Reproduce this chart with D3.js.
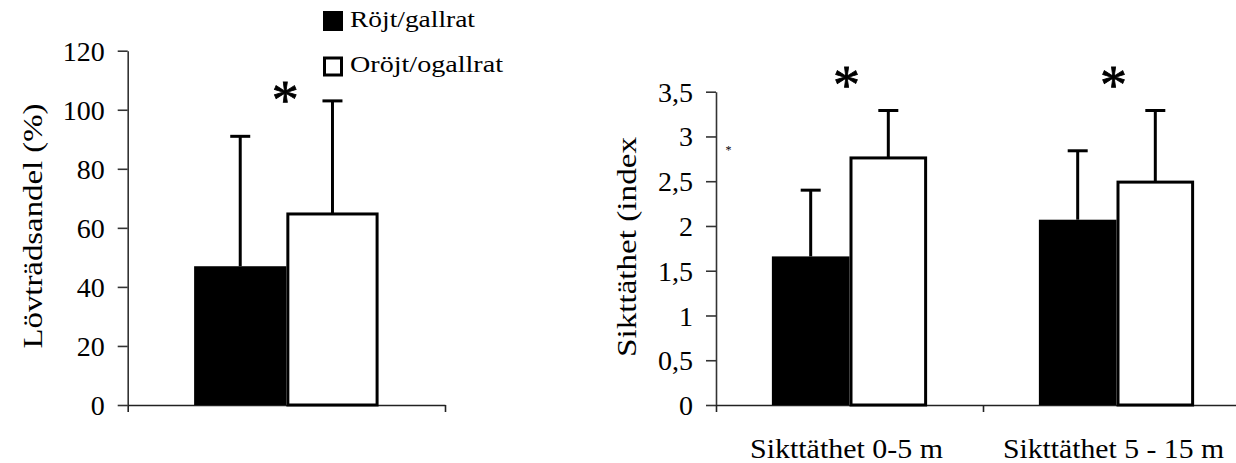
<!DOCTYPE html>
<html>
<head>
<meta charset="utf-8">
<script src="https://cdn.jsdelivr.net/npm/d3@7"></script>
<style>
  html, body { margin: 0; padding: 0; background: #fff; }
  svg { display: block; }
  svg text { font-family: "Liberation Serif", "Times New Roman", Times, serif !important; fill: #000; }
</style>
</head>
<body>
<svg id="chart" width="1236" height="463" font-family="Liberation Serif, serif"></svg>
<script>
// ---------- data ----------
const seriesNames = ["Röjt/gallrat", "Oröjt/ogallrat"];
const seriesFill = ["#000", "#fff"];

// left panel
const leftCategories = ["Lövträdsandel"];
const leftRojt = [47];
const leftOrojt = [64.7];
const leftRojtSD = [44];
const leftOrojtSD = [38.3];
const leftTicks = [0, 20, 40, 60, 80, 100, 120];
const leftYLabel = "Lövträdsandel (%)";

// right panel
const rightCategories = ["Sikttäthet 0-5 m", "Sikttäthet 5 - 15 m"];
const rightRojt = [1.66, 2.07];
const rightOrojt = [2.76, 2.49];
const rightRojtSD = [0.74, 0.77];
const rightOrojtSD = [0.53, 0.80];
const rightTicks = [0, 0.5, 1, 1.5, 2, 2.5, 3, 3.5];
const rightTickLabels = ["0", "0,5", "1", "1,5", "2", "2,5", "3", "3,5"];
const rightYLabel = "Sikttäthet (index";

// ---------- drawing ----------
const FONT = "Liberation Serif, Times New Roman, serif";
const svg = d3.select("#chart");
svg.append("rect").attr("width", 1236).attr("height", 463).attr("fill", "#fff");

function panel(opts) {
  const g = svg.append("g");
  const y = d3.scaleLinear().domain([0, opts.yMax]).range([opts.y0, opts.y1]);
  const xb = d3.scaleLinear().domain([0, opts.categories.length]).range([opts.x0, opts.x1]);
  const xg = d3.scaleBand().domain(opts.categories).range([opts.x0, opts.x1]).padding(0);
  const xs = d3.scaleBand().domain(seriesNames).range([0, xg.bandwidth()])
    .paddingInner(0).paddingOuter(0.72);

  // y axis
  const yAxis = d3.axisLeft(y).tickValues(opts.ticks).tickSize(10).tickSizeOuter(0)
    .tickPadding(13).tickFormat((d, i) => opts.tickLabels[i]);
  const ya = g.append("g").attr("transform", `translate(${opts.x0},0)`).call(yAxis)
    .attr("font-family", FONT).attr("font-size", 28);
  ya.selectAll("text").attr("font-size", 28).attr("dy", "0.34em").attr("font-family", FONT);
  ya.selectAll("line, path").attr("stroke", "#333").attr("stroke-width", 1.6);

  // x axis (category boundary ticks)
  const xAxis = d3.axisBottom(xb).tickValues(d3.range(opts.categories.length + 1))
    .tickSize(7).tickSizeOuter(0).tickFormat("");
  const xa = g.append("g").attr("transform", `translate(0,${opts.y0})`).call(xAxis);
  xa.selectAll("line, path").attr("stroke", "#222").attr("stroke-width", 1.6);

  // bars
  const rows = [];
  opts.categories.forEach((c, i) => {
    rows.push({c, s: 0, v: opts.a[i], e: opts.aSD[i]});
    rows.push({c, s: 1, v: opts.b[i], e: opts.bSD[i]});
  });
  g.selectAll("rect.bar").data(rows).join("rect")
    .attr("class", "bar")
    .attr("x", d => xg(d.c) + xs(seriesNames[d.s]) + (d.s === 1 ? 1.5 : 0))
    .attr("width", d => xs.bandwidth() - (d.s === 1 ? 3 : 0))
    .attr("y", d => y(d.v))
    .attr("height", d => y(0) - y(d.v))
    .attr("fill", d => seriesFill[d.s])
    .attr("stroke", "#000")
    .attr("stroke-width", d => d.s === 1 ? 3 : 0);

  // error bars (upper only)
  const cx = d => xg(d.c) + xs(seriesNames[d.s]) + xs.bandwidth() / 2;
  g.selectAll("line.err").data(rows).join("line")
    .attr("class", "err")
    .attr("x1", cx).attr("x2", cx)
    .attr("y1", d => y(d.v)).attr("y2", d => y(d.v + d.e))
    .attr("stroke", "#000").attr("stroke-width", 3);
  g.selectAll("line.cap").data(rows).join("line")
    .attr("class", "cap")
    .attr("x1", d => cx(d) - 10).attr("x2", d => cx(d) + 10)
    .attr("y1", d => y(d.v + d.e)).attr("y2", d => y(d.v + d.e))
    .attr("stroke", "#000").attr("stroke-width", 3);

  // category labels
  if (opts.showCatLabels) {
    g.selectAll("text.cat").data(opts.categories).join("text")
      .attr("class", "cat")
      .attr("x", d => xg(d) + xg.bandwidth() / 2 - 3)
      .attr("y", 458)
      .attr("text-anchor", "middle")
      .attr("font-size", 28)
      .attr("font-family", FONT)
      .attr("textLength", (d, i) => opts.catLen[i])
      .attr("lengthAdjust", "spacingAndGlyphs")
      .text(d => d);
  }

  // significance asterisks
  g.selectAll("text.sig").data(opts.categories).join("text")
    .attr("class", "sig")
    .attr("x", d => xg(d) + xg.bandwidth() / 2 + opts.sigDx)
    .attr("y", opts.sigY + 25)
    .attr("text-anchor", "middle")
    .attr("font-size", 54)
    .attr("font-family", FONT)
    .attr("stroke", "#000").attr("stroke-width", 0.8)
    .text("*");

  // y label
  g.append("text")
    .attr("transform", `translate(${opts.labelX},${opts.labelY}) rotate(-90)`)
    .attr("text-anchor", "middle")
    .attr("font-size", 27)
    .attr("font-family", FONT)
    .attr("textLength", opts.labelLen)
    .attr("lengthAdjust", "spacingAndGlyphs")
    .text(opts.yLabel);
}

panel({
  categories: leftCategories, a: leftRojt, b: leftOrojt, aSD: leftRojtSD, bSD: leftOrojtSD,
  yMax: 120, ticks: leftTicks, tickLabels: leftTicks.map(String),
  x0: 127.7, x1: 445, y0: 405, y1: 50.7,
  showCatLabels: false, sigDx: -1, sigY: 92.5,
  yLabel: leftYLabel, labelX: 42, labelY: 226, labelLen: 245
});

panel({
  categories: rightCategories, a: rightRojt, b: rightOrojt, aSD: rightRojtSD, bSD: rightOrojtSD,
  yMax: 3.5, ticks: rightTicks, tickLabels: rightTickLabels,
  x0: 716, x1: 1250, y0: 405, y1: 91.7,
  showCatLabels: true, catLen: [193, 221], sigDx: -3, sigY: 77.5,
  yLabel: rightYLabel, labelX: 636, labelY: 247, labelLen: 220
});

// stray small asterisk near right y axis
svg.append("text").attr("x", 728.5).attr("y", 154).attr("text-anchor", "middle")
  .attr("font-size", 12).attr("font-family", FONT).text("*");

// legend
const legend = svg.append("g");
seriesNames.forEach((name, i) => {
  const yTop = i === 0 ? 11 : 56.5;
  if (i === 0) {
    legend.append("rect").attr("x", 323).attr("y", yTop).attr("width", 20).attr("height", 20)
      .attr("fill", seriesFill[i]);
  } else {
    legend.append("rect").attr("x", 324.5).attr("y", yTop + 1.5).attr("width", 17).attr("height", 17)
      .attr("fill", seriesFill[i]).attr("stroke", "#000").attr("stroke-width", 3);
  }
  legend.append("text")
    .attr("x", 350).attr("y", i === 0 ? 27 : 72)
    .attr("font-size", 23)
    .attr("font-family", FONT)
    .attr("textLength", i === 0 ? 125 : 153)
    .attr("lengthAdjust", "spacingAndGlyphs")
    .text(name);
});
</script>
</body>
</html>
